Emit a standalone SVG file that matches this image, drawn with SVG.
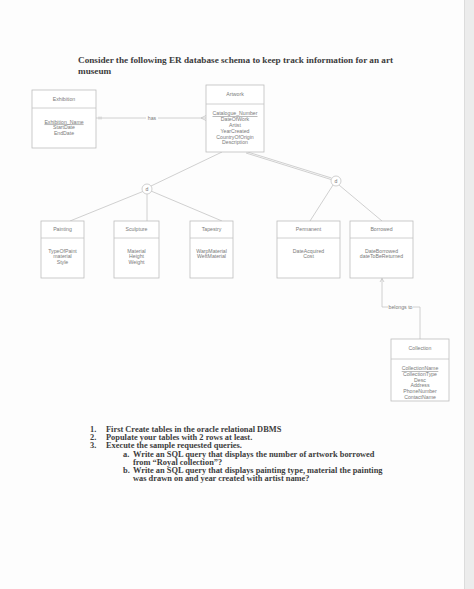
<svg xmlns="http://www.w3.org/2000/svg" width="474" height="589" viewBox="0 0 474 589">
<style>
.box{fill:#fff;stroke:#bdbdbd;stroke-width:0.8}
.ln{fill:none;stroke:#c4c4c4;stroke-width:0.8}
.t{font-family:"Liberation Sans",Arial,sans-serif;font-size:5.2px;fill:#7a7a7a;text-anchor:middle}
.u{text-decoration:underline}
.q{font-family:"Liberation Serif","Times New Roman",serif;font-weight:bold;fill:#3c3c3c}
</style>
<rect width="474" height="589" fill="#fdfdfd"/>
<rect x="464" y="0" width="10" height="589" fill="#ececec"/>
<line x1="464.5" y1="0" x2="464.5" y2="589" stroke="#dcdcdc" stroke-width="1"/>

<g id="title">
<text class="q" x="78" y="63" font-size="9.2">Consider the following ER database schema to keep track information for an art</text>
<text class="q" x="78" y="74" font-size="9.2">museum</text>
</g>

<g id="connectors">
<line class="ln" x1="96" y1="118" x2="206" y2="118"/>
<line class="ln" x1="99" y1="116.5" x2="99" y2="119.5"/>
<line class="ln" x1="101" y1="116.5" x2="101" y2="119.5"/>
<line class="ln" x1="201" y1="118" x2="206" y2="115.5"/>
<line class="ln" x1="201" y1="118" x2="206" y2="120.5"/>
<rect x="146" y="115" width="12" height="6" fill="#fdfdfd"/>
<text class="t" x="152" y="119.5" font-size="4">has</text>
<line class="ln" x1="222" y1="152" x2="151" y2="186"/>
<line class="ln" x1="246" y1="151.5" x2="331.5" y2="178"/>
<line class="ln" x1="246" y1="153" x2="331" y2="179.5"/>
<line class="ln" x1="144" y1="191" x2="70" y2="221"/>
<line class="ln" x1="147" y1="194" x2="147" y2="221"/>
<line class="ln" x1="151" y1="191" x2="222" y2="221"/>
<line class="ln" x1="333" y1="185" x2="310" y2="221"/>
<line class="ln" x1="339" y1="185" x2="382" y2="221"/>
<polyline class="ln" points="382,278 382,307 388,307"/>
<line class="ln" x1="380" y1="282" x2="382" y2="278.5"/>
<line class="ln" x1="384" y1="282" x2="382" y2="278.5"/>
<polyline class="ln" points="413,307 420,307 420,339"/>
<text class="t" x="400.5" y="308.5" font-size="4">belongs to</text>
</g>

<g id="disjoint-left">
<circle cx="147" cy="189" r="5" fill="#fff" stroke="#c4c4c4" stroke-width="0.8"/>
<text class="t" x="147" y="190.6" font-size="4">d</text>
</g>
<g id="disjoint-right">
<circle cx="336" cy="181" r="5" fill="#fff" stroke="#c4c4c4" stroke-width="0.8"/>
<text class="t" x="336" y="182.6" font-size="4">d</text>
</g>

<g id="exhibition">
<rect class="box" x="32" y="90" width="64" height="58"/>
<line class="ln" x1="32" y1="108" x2="96" y2="108"/>
<text class="t" x="64" y="100.7">Exhibition</text>
<text class="t u" x="64" y="123.5">Exhibition_Name</text>
<text class="t" x="64" y="129.2">StartDate</text>
<text class="t" x="64" y="135">EndDate</text>
</g>

<g id="artwork">
<rect class="box" x="206" y="85" width="58" height="67"/>
<line class="ln" x1="206" y1="104" x2="264" y2="104"/>
<text class="t" x="235" y="95.7">Artwork</text>
<text class="t u" x="235" y="115.4">Catalogue_Number</text>
<text class="t" x="235" y="121.2">DateOfWork</text>
<text class="t" x="235" y="127">Artist</text>
<text class="t" x="235" y="132.8">YearCreated</text>
<text class="t" x="235" y="138.6">CountryOfOrigin</text>
<text class="t" x="235" y="144.4">Description</text>
</g>

<g id="painting">
<rect class="box" x="41" y="221" width="43" height="57"/>
<line class="ln" x1="41" y1="238" x2="84" y2="238"/>
<text class="t" x="62.5" y="230.7">Painting</text>
<text class="t" x="62.5" y="252.7">TypeOfPaint</text>
<text class="t" x="62.5" y="258.2">material</text>
<text class="t" x="62.5" y="263.7">Style</text>
</g>

<g id="sculpture">
<rect class="box" x="114" y="221" width="45" height="57"/>
<line class="ln" x1="114" y1="238" x2="159" y2="238"/>
<text class="t" x="136.5" y="230.7">Sculpture</text>
<text class="t" x="136.5" y="252.7">Material</text>
<text class="t" x="136.5" y="258.2">Height</text>
<text class="t" x="136.5" y="263.7">Weight</text>
</g>

<g id="tapestry">
<rect class="box" x="190" y="221" width="43" height="57"/>
<line class="ln" x1="190" y1="238" x2="233" y2="238"/>
<text class="t" x="211.5" y="230.7">Tapestry</text>
<text class="t" x="211.5" y="252.7">WarpMaterial</text>
<text class="t" x="211.5" y="258.2">WeftMaterial</text>
</g>

<g id="permanent">
<rect class="box" x="277" y="221" width="63" height="57"/>
<line class="ln" x1="277" y1="238" x2="340" y2="238"/>
<text class="t" x="308.5" y="230.7">Permanent</text>
<text class="t" x="308.5" y="252.7">DateAcquired</text>
<text class="t" x="308.5" y="258.2">Cost</text>
</g>

<g id="borrowed">
<rect class="box" x="350" y="221" width="63" height="57"/>
<line class="ln" x1="350" y1="238" x2="413" y2="238"/>
<text class="t" x="381.5" y="230.7">Borrowed</text>
<text class="t" x="381.5" y="252.7">DateBorrowed</text>
<text class="t" x="381.5" y="258.2">dateToBeReturned</text>
</g>

<g id="collection">
<rect class="box" x="391" y="339" width="58" height="62"/>
<line class="ln" x1="391" y1="359" x2="449" y2="359"/>
<text class="t" x="420" y="349.7">Collection</text>
<text class="t u" x="420" y="370">CollectionName</text>
<text class="t" x="420" y="375.8">CollectionType</text>
<text class="t" x="420" y="381.6">Desc</text>
<text class="t" x="420" y="387.4">Address</text>
<text class="t" x="420" y="393.2">PhoneNumber</text>
<text class="t" x="420" y="399">ContactName</text>
</g>

<g id="questions" font-size="8.4">
<text class="q" x="90" y="432">1.</text>
<text class="q" x="106" y="432">First Create tables in the oracle relational DBMS</text>
<text class="q" x="90" y="440">2.</text>
<text class="q" x="106" y="440">Populate your tables with 2 rows at least.</text>
<text class="q" x="90" y="448">3.</text>
<text class="q" x="106" y="448">Execute the sample requested queries.</text>
<text class="q" x="123" y="456.5">a.</text>
<text class="q" x="133" y="456.5">Write an SQL query that displays the number of artwork borrowed</text>
<text class="q" x="133" y="464.5">from “Royal collection”?</text>
<text class="q" x="123" y="472.5">b.</text>
<text class="q" x="133" y="472.5">Write an SQL query that displays painting type, material the painting</text>
<text class="q" x="133" y="480.5">was drawn on and year created with artist name?</text>
</g>
</svg>
